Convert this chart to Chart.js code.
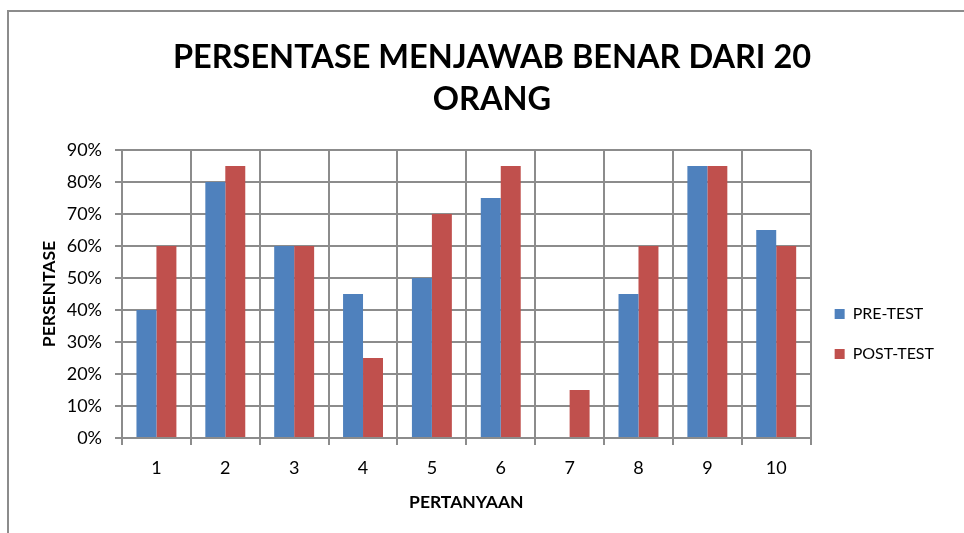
<!DOCTYPE html>
<html>
<head>
<meta charset="utf-8">
<script src="https://cdn.jsdelivr.net/npm/chart.js@4"></script>
<style>
    html, body { margin: 0; padding: 0; background: #fff; overflow: hidden; }
    #bingkai {
        position: absolute; left: 7px; top: 10px; width: 1000px; height: 600px;
        border-left: 2px solid #8c8c8c; border-top: 2px solid #8c8c8c;
    }
    #wrap { position: absolute; left: 0; top: 0; width: 964px; height: 533px; }
</style>
</head>
<body>
<div id="bingkai"></div>
<div id="wrap"><canvas id="chart-persentase"></canvas></div>
<script>
// Data diagram
const PERTANYAAN = ['1', '2', '3', '4', '5', '6', '7', '8', '9', '10'];
const PRE_TEST = [40, 80, 60, 45, 50, 75, 0, 45, 85, 65];
const POST_TEST = [60, 85, 60, 25, 70, 85, 15, 60, 85, 60];
const JUDUL = ['PERSENTASE MENJAWAB BENAR DARI 20', 'ORANG'];

const FONT = 'Lato, "Open Sans", sans-serif';
const GARIS = '#8c8c8c';

const ctx = document.getElementById('chart-persentase');

new Chart(ctx, {
    type: 'bar',
    data: {
        labels: PERTANYAAN,
        datasets: [
            { label: 'PRE-TEST', data: PRE_TEST, backgroundColor: '#4F81BD' },
            { label: 'POST-TEST', data: POST_TEST, backgroundColor: '#C0504D' }
        ]
    },
    options: {
        responsive: true,
        maintainAspectRatio: false,
        animation: false,
        datasets: { bar: { categoryPercentage: 0.58, barPercentage: 1, borderWidth: 0 } },
        layout: { padding: { left: 40, right: 20, top: 0, bottom: 0 } },
        plugins: {
            title: {
                display: true,
                text: JUDUL,
                color: '#000',
                font: { family: FONT, size: 32.5, weight: 'bold', lineHeight: '42px' },
                padding: { top: 37, bottom: 29 }
            },
            legend: {
                position: 'right',
                // judul kosong hanya untuk menurunkan posisi legenda
                title: { display: true, text: '', font: { size: 1 }, padding: { top: 134, bottom: 0 } },
                labels: {
                    boxWidth: 10,
                    boxHeight: 10,
                    padding: 24,
                    color: '#000',
                    font: { family: FONT, size: 16 }
                }
            },
            tooltip: { enabled: false }
        },
        scales: {
            x: {
                afterFit: s => { s.height = 95; },
                grid: { color: GARIS, lineWidth: 2, tickLength: 7, offset: true },
                border: { color: GARIS, width: 2 },
                ticks: { color: '#000', padding: 12, font: { family: FONT, size: 18 } },
                title: {
                    display: true, text: 'PERTANYAAN', color: '#000',
                    font: { family: FONT, size: 17.5, weight: 'bold', lineHeight: '18px' },
                    padding: { top: 0, bottom: 22 }
                }
            },
            y: {
                min: 0,
                max: 90,
                afterFit: s => { s.width = 82; },
                grid: { color: GARIS, lineWidth: 2, tickLength: 7 },
                border: { color: GARIS, width: 2 },
                ticks: {
                    stepSize: 10,
                    color: '#000',
                    padding: 13,
                    font: { family: FONT, size: 18 },
                    callback: v => v + '%'
                },
                title: {
                    display: true, text: 'PERSENTASE', color: '#000',
                    font: { family: FONT, size: 17.5, weight: 'bold', lineHeight: '18px' },
                    padding: { top: 0, bottom: 0 }
                }
            }
        }
    }
});
</script>
</body>
</html>
